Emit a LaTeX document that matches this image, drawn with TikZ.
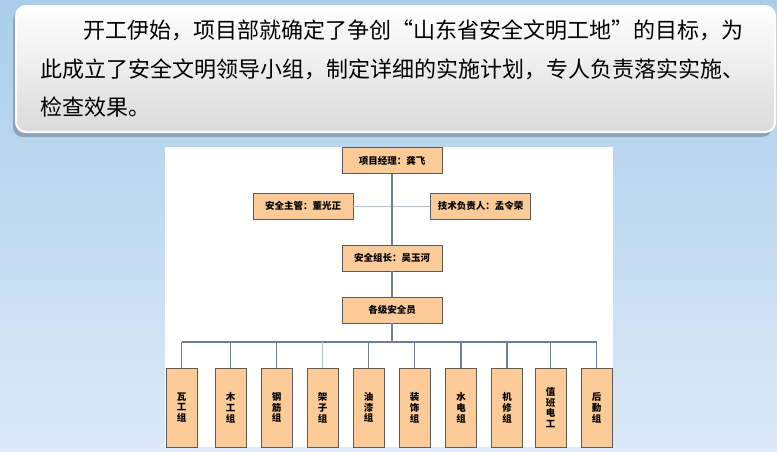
\documentclass[tikz,border=0pt]{standalone}
\usepackage{fontspec}
\newfontfamily\cjk{Noto Sans CJK SC}
\newcommand\fq[1]{{\addfontfeature{CharacterWidth=Full}#1}}
\usetikzlibrary{positioning}
\definecolor{BgTop}{HTML}{A9CDEB}
\definecolor{BgBot}{HTML}{DCEAF7}
\definecolor{PanelBot}{HTML}{DADADA}
\definecolor{PanelShadow}{HTML}{8EA2B8}
\definecolor{BoxFill}{HTML}{FDCB98}
\definecolor{BoxLine}{HTML}{5E5A55}
\definecolor{LinkGray}{HTML}{6E7E94}
\definecolor{LinkLight}{HTML}{A9C3D6}

\begin{document}
\begin{tikzpicture}[x=1pt,y=-1pt,
  b/.style={draw=BoxLine,fill=BoxFill,line width=0.8pt,minimum width=100pt,minimum height=26pt,inner sep=0pt,font=\cjk\bfseries\fontsize{9.5}{11}\selectfont},
  g/.style={b,minimum width=31pt,minimum height=79pt,align=center,font=\cjk\bfseries\fontsize{9.5}{10.8}\selectfont},
  l/.style={draw=LinkGray,line width=1.3pt},
  lt/.style={draw=LinkLight,line width=0.9pt},
  t/.style={anchor=west,inner sep=0pt,font=\cjk\fontsize{22}{26}\selectfont}]
\useasboundingbox (0,0) rectangle (777,451);
\shade[top color=BgTop,bottom color=BgBot] (0,0) rectangle (777,451);
% text panel
\fill[PanelShadow,rounded corners=10pt] (13,10) rectangle (772,137);
\shadedraw[top color=white,bottom color=PanelBot,draw=white,line width=2pt,rounded corners=10pt] (16,6) rectangle (775,132);
\node[t] (l1) at (83,30) {开工伊始，项目部就确定了争创\fq{“}山东省安全文明工地\fq{”}的目标，为};
\node[t] (l2) at (40,69) {此成立了安全文明领导小组，制定详细的实施计划，专人负责落实实施、};
\node[t] (l3) at (40,107) {检查效果。};
% chart
\fill[white] (165,147) rectangle (613,447);
\node[b] (pm) at (392,160.5) {项目经理：龚飞};
\node[b] (sm) at (303,206) {安全主管：董光正};
\node[b] (tm) at (480.5,206) {技术负责人：孟令荣};
\node[b] (gl) at (392,258) {安全组长：吴玉河};
\node[b] (so) at (392,310) {各级安全员};
\foreach \i/\x/\txt in {1/181.5/{瓦\\工\\组},2/230.5/{木\\工\\组},3/276.5/{钢\\筋\\组},
  4/322.5/{架\\子\\组},5/368.5/{油\\漆\\组},6/414.5/{装\\饰\\组},7/461/{水\\电\\组},
  8/507/{机\\修\\组},9/550.5/{值\\班\\电\\工},10/596.5/{后\\勤\\组}}
  \node[g] (g\i) at (\x,407.5) {\txt};
\coordinate (bus) at (392,342);
\draw[lt] (sm) -- (tm);
\draw[l] (pm) -- (gl);
\draw[l] (gl) -- (so);
\draw[l] (so) -- (bus);
\draw[l] (g1.north |- bus) -- (g10.north |- bus);
\foreach \i/\s in {1/l,2/l,3/l,4/lt,5/l,6/l,7/l,8/l,9/l,10/l}
  \draw[\s] (g\i.north |- bus) -- (g\i);
\end{tikzpicture}
\end{document}
